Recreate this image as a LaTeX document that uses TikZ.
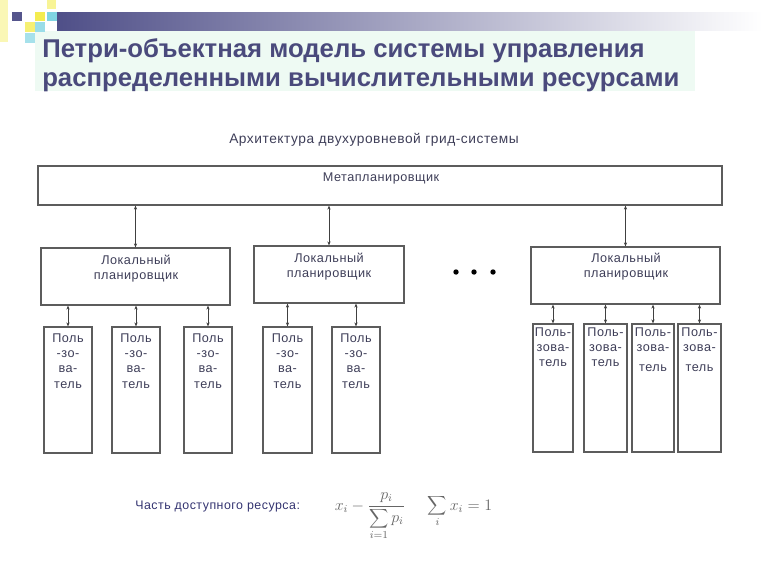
\documentclass[tikz,border=0pt]{standalone}
\usepackage{fontspec}
\setmainfont{Liberation Sans}
\newfontfamily\diagfont[LetterSpace=4]{Liberation Sans}
\usetikzlibrary{arrows.meta,fit}
\definecolor{titlec}{HTML}{4A4A7C}
\definecolor{titlebg}{HTML}{EEFAF3}
\definecolor{bardark}{HTML}{4F4F88}
\definecolor{barmid}{HTML}{A4A4C6}
\definecolor{sqdark}{HTML}{55558C}
\definecolor{sqyellow}{HTML}{F4EC50}
\definecolor{sqblue}{HTML}{80D4E2}
\definecolor{boxline}{HTML}{5C5C5C}
\definecolor{txt}{HTML}{3E3E58}
\begin{document}
\begin{tikzpicture}[x=0.75pt,y=-0.75pt,
  box/.style={draw=boxline, line width=0.9pt, inner sep=0pt},
  lbl/.style={text=txt, font=\diagfont\fontsize{9.5}{11.4}\selectfont, align=center, inner sep=0pt},
  link/.style={draw=black!75, line width=0.5pt, {Stealth[length=3pt,width=2.4pt]}-{Stealth[length=3pt,width=2.4pt]}},
  formula/.style={text=black!60, inner sep=0pt, font=\fontsize{12}{14}\selectfont},
  ttl/.style={anchor=base west, text=titlec, inner sep=0pt, font=\bfseries\fontsize{19.3}{22}\selectfont}
]
\useasboundingbox (0,0) rectangle (768,576);
% decoration
\fill[sqyellow!60, opacity=0.7] (0,0) rectangle (8,42);
\fill[sqyellow!60] (47,0) rectangle (56,9);
\shade[left color=bardark, middle color=barmid, right color=white] (57,12) rectangle (762,30);
\fill[titlebg] (35,31) rectangle (695,91);
\fill[sqdark] (12,12) rectangle (22,21);
\fill[sqyellow] (35,12) rectangle (45,21);
\fill[sqblue] (47,12) rectangle (57,21);
\fill[sqyellow!80] (25,22) rectangle (35,32);
\fill[sqblue!80] (35,22) rectangle (45,32);
\fill[sqblue!70] (25,33) rectangle (35,43);
% title
\node[ttl] (t1) at (42,57) {Петри-объектная модель системы управления};
\node[ttl] (t2) at (42,86) {распределенными вычислительными ресурсами};
% subtitle
\node[lbl, font=\diagfont\fontsize{10.3}{12}\selectfont] (arch) at (374,140) {Архитектура двухуровневой грид-системы};
% meta planner
\node[box, fit={(38,166) (722,205)}] (meta) {};
\node[lbl] (metat) at (381,178) {Метапланировщик};
% local planners
\node[box, fit={(41,248) (230,305)}] (L1) {};
\node[box, fit={(254,246) (404,303)}] (L2) {};
\node[box, fit={(531,247) (720,304)}] (L3) {};
\node[lbl, anchor=north] (L1t) at (136,255) {Локальный\\планировщик};
\node[lbl, anchor=north] (L2t) at (329,253) {Локальный\\планировщик};
\node[lbl, anchor=north] (L3t) at (626,253) {Локальный\\планировщик};
% dots
\fill[black] (456,272) circle (2.7) (474,272) circle (2.7) (493,272) circle (2.7);
% users
\node[box, fit={(44,327) (92,453)}] (u1) {};
\node[box, fit={(112,327) (160,453)}] (u2) {};
\node[box, fit={(184,327) (232,453)}] (u3) {};
\node[box, fit={(263,327) (312,453)}] (u4) {};
\node[box, fit={(332,327) (380,453)}] (u5) {};
\node[box, fit={(533,324) (573,452)}] (u6) {};
\node[box, fit={(584,324) (627,452)}] (u7) {};
\node[box, fit={(632,324) (674,452)}] (u8) {};
\node[box, fit={(678,324) (721,452)}] (u9) {};
\foreach \u in {u1,u2,u3,u4,u5}{
  \node[lbl, anchor=north, font=\diagfont\fontsize{9.5}{11.6}\selectfont] (\u t) at ([yshift=-5pt]\u.north) {Поль\\-зо-\\ва-\\тель};
}
\foreach \u in {u6,u7}{
  \node[lbl, anchor=north, font=\diagfont\fontsize{9.5}{11.2}\selectfont] (\u t) at ([yshift=-3pt]\u.north) {Поль-\\зова-\\тель};
}
\foreach \u in {u8,u9}{
  \node[lbl, anchor=north, font=\diagfont\fontsize{9.5}{11.2}\selectfont] (\u t) at ([yshift=-3pt]\u.north) {Поль-\\зова-\\[4pt]тель};
}
% connectors
\foreach \l in {L1,L2,L3}{
  \draw[link] (\l.north) -- (\l.north |- meta.south);
}
\foreach \u in {u1,u2,u3}{ \draw[link] (\u.north) -- (\u.north |- L1.south); }
\foreach \u in {u4,u5}{ \draw[link] (\u.north) -- (\u.north |- L2.south); }
\foreach \u in {u6,u7,u8,u9}{ \draw[link] (\u.north) -- (\u.north |- L3.south); }
% bottom
\node[lbl, anchor=west, text=black!60!blue!60!gray, font=\diagfont\fontsize{9.3}{11}\selectfont] (share) at (135,507) {Часть доступного ресурса:};
\node[formula, anchor=base] (f1) at (370,510) {$\displaystyle x_i - \frac{p_i}{\displaystyle\sum_{i=1} p_i}$};
\node[formula, anchor=base] (f2) at (460,510) {$\displaystyle\sum_i x_i = 1$};
\end{tikzpicture}
\end{document}
